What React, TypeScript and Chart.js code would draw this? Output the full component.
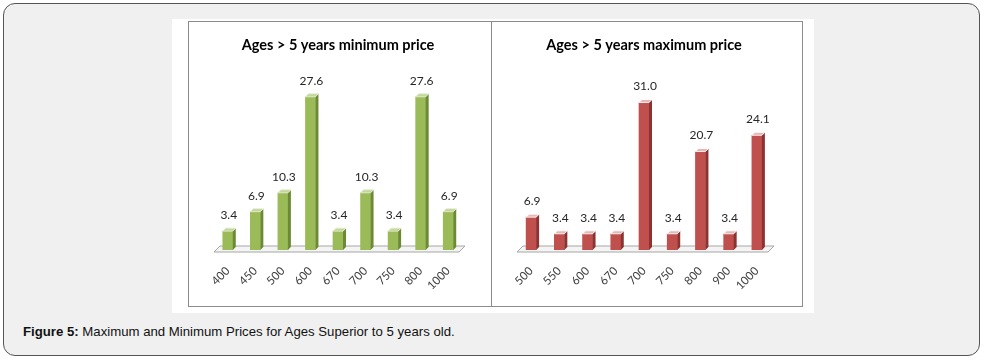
import React, { useEffect, useRef } from 'react';
import { Chart, registerables } from 'chart.js';
Chart.register(...registerables);

const minCategories = ['400', '450', '500', '600', '670', '700', '750', '800', '1000'];
const minValues = [3.4, 6.9, 10.3, 27.6, 3.4, 10.3, 3.4, 27.6, 6.9];
const maxCategories = ['500', '550', '600', '670', '700', '750', '800', '900', '1000'];
const maxValues = [6.9, 3.4, 3.4, 3.4, 31.0, 3.4, 20.7, 3.4, 24.1];
const minTitle = 'Ages > 5 years minimum price';
const maxTitle = 'Ages > 5 years maximum price';
const captionBold = 'Figure 5:';
const captionText = ' Maximum and Minimum Prices for Ages Superior to 5 years old.';

const FONT = 'Lato, "Open Sans", sans-serif';

type Style3D = { front: string; side: string; top: string; edge: string; depth: number };

const bar3dPlugin = {
  id: 'bar3d',
  beforeDatasetsDraw(chart: any) {
    const { ctx, chartArea } = chart;
    const d = 6;
    const yf = chartArea.bottom + 2;
    const yb = chartArea.bottom - 4;
    ctx.save();
    ctx.beginPath();
    ctx.moveTo(chartArea.left, yf);
    ctx.lineTo(chartArea.right - 3, yf);
    ctx.lineTo(chartArea.right - 3 + d, yb);
    ctx.lineTo(chartArea.left + d, yb);
    ctx.closePath();
    ctx.fillStyle = '#f4f4f4';
    ctx.fill();
    ctx.strokeStyle = '#a6a6a6';
    ctx.lineWidth = 1;
    ctx.stroke();
    ctx.restore();
  },
  afterDatasetsDraw(chart: any, _a: any, opts: any) {
    const s: Style3D = opts;
    if (!s || !s.front) return;
    const { ctx } = chart;
    const meta = chart.getDatasetMeta(0);
    const values = chart.data.datasets[0].data;
    ctx.save();
    meta.data.forEach((el: any, i: number) => {
      const { x, y, base, width } = el.getProps(['x', 'y', 'base', 'width'], true);
      const l = x - width / 2;
      const r = x + width / 2;
      const dp = s.depth;
      ctx.beginPath();
      ctx.moveTo(r, y);
      ctx.lineTo(r + dp, y - dp);
      ctx.lineTo(r + dp, base - dp);
      ctx.lineTo(r, base);
      ctx.closePath();
      ctx.fillStyle = s.side;
      ctx.fill();
      ctx.beginPath();
      ctx.moveTo(l, y);
      ctx.lineTo(l + dp, y - dp);
      ctx.lineTo(r + dp, y - dp);
      ctx.lineTo(r, y);
      ctx.closePath();
      ctx.fillStyle = s.top;
      ctx.fill();
      ctx.strokeStyle = s.edge;
      ctx.lineWidth = 0.8;
      ctx.stroke();
      ctx.fillStyle = '#262626';
      ctx.font = `12px ${FONT}`;
      ctx.textAlign = 'center';
      ctx.textBaseline = 'middle';
      ctx.fillText(Number(values[i]).toFixed(1), x + 1, y - 16);
    });
    ctx.restore();
  },
};

function BarPanel(props: {
  labels: string[];
  values: number[];
  title: string;
  yMax: number;
  style: Style3D;
  width: number;
  height: number;
  padLeft: number;
  padRight: number;
}) {
  const ref = useRef<HTMLCanvasElement>(null);
  useEffect(() => {
    const chart = new Chart(ref.current as HTMLCanvasElement, {
      type: 'bar',
      data: {
        labels: props.labels,
        datasets: [
          {
            data: props.values,
            backgroundColor: props.style.front,
            borderWidth: 0,
            barThickness: 10,
          },
        ],
      },
      options: {
        animation: false,
        responsive: false,
        devicePixelRatio: 1,
        layout: { padding: { left: props.padLeft, right: props.padRight, top: 0, bottom: 0 } },
        plugins: {
          legend: { display: false },
          tooltip: { enabled: false },
          title: {
            display: true,
            text: props.title,
            color: '#000',
            font: { family: FONT, size: 14.5, weight: 'bold' },
            padding: { top: 14.3, bottom: 29.8 },
          },
          bar3d: props.style as any,
        } as any,
        scales: {
          x: {
            grid: { display: false },
            border: { display: false },
            ticks: {
              minRotation: 45,
              maxRotation: 45,
              color: '#404040',
              padding: 6,
              font: { family: FONT, size: 11.5 },
            },
            afterFit: (s: any) => {
              s.height = 56;
            },
          },
          y: { display: false, min: 0, max: props.yMax },
        },
      },
      plugins: [bar3dPlugin],
    });
    return () => chart.destroy();
  }, []);
  return <canvas ref={ref} width={props.width} height={props.height} style={{ display: 'block' }} />;
}

export default function App() {
  return (
    <div style={{ position: 'fixed', left: 0, top: 0, width: 985, height: 362, background: '#fff' }}>
      <div
        style={{
          position: 'absolute',
          left: 3,
          top: 3,
          width: 975,
          height: 351,
          border: '1.5px solid #555',
          borderRadius: 12,
          background: '#f0f0f0',
        }}
      />
      <div style={{ position: 'absolute', left: 172, top: 19, width: 642, height: 294, background: '#fff' }} />
      <div
        style={{
          position: 'absolute',
          left: 188,
          top: 21,
          width: 302,
          height: 284,
          border: '1px solid #8c8c8c',
        }}
      >
        <BarPanel
          labels={minCategories}
          values={minValues}
          title={minTitle}
          yMax={30}
          style={{ front: '#9bbb59', side: '#6b8a33', top: '#c3d69b', edge: '#e4eed0', depth: 3 }}
          width={302}
          height={284}
          padLeft={25}
          padRight={29}
        />
      </div>
      <div
        style={{
          position: 'absolute',
          left: 491,
          top: 21,
          width: 310,
          height: 284,
          border: '1px solid #8c8c8c',
        }}
      >
        <BarPanel
          labels={maxCategories}
          values={maxValues}
          title={maxTitle}
          yMax={35}
          style={{ front: '#c0504d', side: '#8c3331', top: '#e6b9b8', edge: '#ffffff', depth: 3 }}
          width={310}
          height={284}
          padLeft={25}
          padRight={31}
        />
      </div>
      <div
        style={{
          position: 'absolute',
          left: 23,
          top: 324,
          fontFamily: '"Liberation Sans", Arial, sans-serif',
          fontSize: 13.2,
          color: '#111',
          whiteSpace: 'nowrap',
        }}
      >
        <b>{captionBold}</b>
        {captionText}
      </div>
    </div>
  );
}
